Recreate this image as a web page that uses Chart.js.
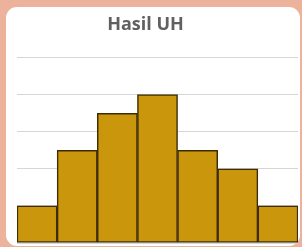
<!DOCTYPE html>
<html>
<head>
<meta charset="utf-8">
<script src="https://cdn.jsdelivr.net/npm/chart.js@4"></script>
<style>
  html, body { margin: 0; padding: 0; }
  body { width: 302px; height: 247px; background: #EDB29B; position: relative; overflow: hidden; }
  #card { position: absolute; left: 6px; top: 7px; width: 294px; height: 239px; background: #ffffff; border-radius: 11px; }
  #c { position: absolute; left: 0; top: 0; }
</style>
</head>
<body>
<div id="card"></div>
<canvas id="c" width="302" height="247"></canvas>
<script>
const categories = ["31-40", "41-50", "51-60", "61-70", "71-80", "81-90", "91-100"];
const frequencies = [2, 5, 7, 8, 5, 4, 2];
const yTicks = [0, 2, 4, 6, 8, 10];
const chartTitle = "Hasil UH";

const shiftTitle = {
  id: "shiftTitle",
  afterLayout(chart) {
    const t = chart.titleBlock;
    if (t) { t.left -= 12; t.right -= 12; }
  }
};

new Chart(document.getElementById("c"), {
  type: "bar",
  data: {
    labels: categories,
    datasets: [{
      data: frequencies,
      backgroundColor: "#C9960C",
      borderColor: "#3F2C05",
      borderWidth: 1.5,
      borderSkipped: false,
      barPercentage: 1.0,
      categoryPercentage: 1.0
    }]
  },
  plugins: [shiftTitle],
  options: {
    responsive: false,
    animation: false,
    devicePixelRatio: 1,
    layout: { padding: { left: 17, right: 4, top: 0, bottom: 4 } },
    plugins: {
      legend: { display: false },
      tooltip: { enabled: false },
      title: {
        display: true,
        text: chartTitle,
        color: "#606060",
        font: { family: "Open Sans", size: 18, weight: "bold" },
        padding: { top: 14, bottom: 22 }
      }
    },
    scales: {
      x: {
        display: false
      },
      y: {
        min: yTicks[0],
        max: yTicks[yTicks.length - 1],
        afterBuildTicks: (axis) => { axis.ticks = yTicks.map(v => ({ value: v })); },
        grid: { color: "#D6D6D6", lineWidth: 1, drawTicks: false },
        ticks: { display: false },
        border: { display: false }
      }
    }
  }
});
</script>
</body>
</html>
